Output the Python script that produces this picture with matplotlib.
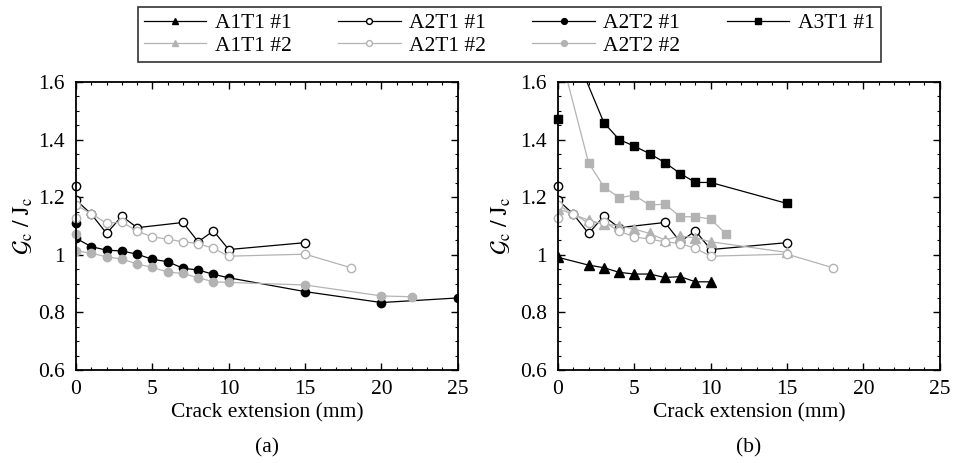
import matplotlib
matplotlib.use('Agg')
import matplotlib.pyplot as plt
from matplotlib.ticker import MultipleLocator, FormatStrFormatter

plt.rcParams['font.family'] = ['Liberation Serif', 'DejaVu Serif']
plt.rcParams['mathtext.fontset'] = 'stix'

GRAY = '#b3b3b3'

# initiation values (x = 0, drawn as markers only)
a2t1_1_init = 1.24
a2t1_2_init = 1.126
a2t2_1_init = 1.111
a2t2_2_init = 1.072
a3t1_1_init = 1.473

# propagation curves
a2t1_1_x = [0, 1, 2, 3, 4, 7, 8, 9, 10, 15]
a2t1_1_y = [1.19, 1.141, 1.074, 1.134, 1.094, 1.112, 1.045, 1.083, 1.018, 1.042]

a2t1_2_x = [0, 1, 2, 3, 4, 5, 6, 7, 8, 9, 10, 15, 18]
a2t1_2_y = [1.172, 1.143, 1.109, 1.114, 1.082, 1.062, 1.054, 1.045, 1.039, 1.022, 0.995, 1.002, 0.955]

a2t2_1_x = [0, 1, 2, 3, 4, 5, 6, 7, 8, 9, 10, 15, 20, 25]
a2t2_1_y = [1.057, 1.028, 1.016, 1.013, 1.002, 0.984, 0.976, 0.953, 0.947, 0.932, 0.920, 0.872, 0.834, 0.850]

a2t2_2_x = [0, 1, 2, 3, 4, 5, 6, 7, 8, 9, 10, 15, 20, 22]
a2t2_2_y = [1.014, 1.005, 0.993, 0.985, 0.968, 0.956, 0.940, 0.935, 0.920, 0.906, 0.904, 0.895, 0.857, 0.854]

a1t1_1_x = [0, 2, 3, 4, 5, 6, 7, 8, 9, 10]
a1t1_1_y = [0.991, 0.964, 0.955, 0.939, 0.933, 0.933, 0.921, 0.924, 0.906, 0.906]

a1t1_2_x = [0, 2, 3, 4, 5, 6, 7, 8, 9, 10, 15]
a1t1_2_y = [1.16, 1.120, 1.106, 1.101, 1.089, 1.074, 1.051, 1.065, 1.059, 1.045, 1.008]

a3t1_1_x = [0, 3, 4, 5, 6, 7, 8, 9, 10, 15]
a3t1_1_y = [1.84, 1.459, 1.400, 1.377, 1.351, 1.320, 1.282, 1.251, 1.251, 1.178]

a3t1_2_x = [0, 2, 3, 4, 5, 6, 7, 8, 9, 10, 11]
a3t1_2_y = [1.73, 1.319, 1.236, 1.198, 1.207, 1.172, 1.176, 1.132, 1.132, 1.124, 1.072]

FS = 15.5

fig = plt.figure(figsize=(9.59, 4.63), dpi=100)
ax_a = fig.add_axes([0.0793, 0.201, 0.398, 0.622])
ax_b = fig.add_axes([0.5819, 0.201, 0.398, 0.622])


def series(ax, x, y, color, marker, face, ms=6, init=None, label=None):
    h, = ax.plot(x, y, color=color, lw=0.9, marker=marker, ms=ms,
                 mfc=face, mec=color, mew=1.0, label=label)
    if init is not None:
        ax.plot([0], [init], ls='none', marker=marker, ms=ms,
                mfc=face, mec=color, mew=1.0, clip_on=False)
    return h


# (a)
series(ax_a, a2t1_1_x, a2t1_1_y, 'black', 'o', 'white', init=a2t1_1_init)
series(ax_a, a2t2_1_x, a2t2_1_y, 'black', 'o', 'black', init=a2t2_1_init)
series(ax_a, a2t1_2_x, a2t1_2_y, GRAY, 'o', 'white', init=a2t1_2_init)
series(ax_a, a2t2_2_x, a2t2_2_y, GRAY, 'o', GRAY, init=a2t2_2_init)

# (b)
h1 = series(ax_b, a1t1_1_x, a1t1_1_y, 'black', '^', 'black', ms=6.5, label='A1T1 #1')
h2 = series(ax_b, a2t1_1_x, a2t1_1_y, 'black', 'o', 'white', init=a2t1_1_init, label='A2T1 #1')
h4 = series(ax_b, a3t1_1_x, a3t1_1_y, 'black', 's', 'black', ms=5.5, init=a3t1_1_init, label='A3T1 #1')
h5 = series(ax_b, a1t1_2_x, a1t1_2_y, GRAY, '^', GRAY, ms=6.5, label='A1T1 #2')
h6 = series(ax_b, a2t1_2_x, a2t1_2_y, GRAY, 'o', 'white', init=a2t1_2_init, label='A2T1 #2')
series(ax_b, a3t1_2_x, a3t1_2_y, GRAY, 's', GRAY, ms=5.5)

# legend-only handles for A2T2
h3, = ax_b.plot([], [], color='black', lw=0.9, marker='o', ms=6, mfc='black', mec='black')
h7, = ax_b.plot([], [], color=GRAY, lw=0.9, marker='o', ms=6, mfc=GRAY, mec=GRAY)

for ax in (ax_a, ax_b):
    ax.set_xlim(0, 25)
    ax.set_ylim(0.6, 1.6)
    ax.xaxis.set_major_locator(MultipleLocator(5))
    ax.xaxis.set_minor_locator(MultipleLocator(1))
    ax.yaxis.set_major_locator(MultipleLocator(0.2))
    ax.yaxis.set_minor_locator(MultipleLocator(0.05))
    ax.yaxis.set_major_formatter(FormatStrFormatter('%g'))
    ax.tick_params(which='both', direction='in', top=True, right=True, labelsize=FS)
    ax.tick_params(axis='x', pad=7)
    ax.tick_params(axis='y', pad=8)
    ax.tick_params(which='major', length=5, width=1)
    ax.tick_params(which='minor', length=2.5, width=0.8)
    for s in ax.spines.values():
        s.set_linewidth(1.3)
    ax.set_xlabel('Crack extension (mm)', fontsize=FS, labelpad=3)
    ax.set_ylabel(r'$\mathcal{G}_\mathrm{c}\ /\ \mathrm{J}_\mathrm{c}$', fontsize=FS + 1.5)

ax_a.yaxis.set_label_coords(-0.108, 0.5)
ax_b.yaxis.set_label_coords(-0.118, 0.5)

fig.text(0.278, 0.032, '(a)', ha='center', va='center', fontsize=FS)
fig.text(0.781, 0.032, '(b)', ha='center', va='center', fontsize=FS)

leg = fig.legend([h1, h5, h2, h6, h3, h7, h4],
                 ['A1T1 #1', 'A1T1 #2', 'A2T1 #1', 'A2T1 #2', 'A2T2 #1', 'A2T2 #2', 'A3T1 #1'],
                 loc='upper center', bbox_to_anchor=(0.531, 0.995), ncol=4,
                 fontsize=FS, frameon=True, fancybox=False, edgecolor='black',
                 handlelength=2.9, handletextpad=0.4, columnspacing=2.15,
                 labelspacing=0.12, borderpad=0.3, borderaxespad=0.2, markerscale=0.7)
leg.get_frame().set_linewidth(1.2)

fig.savefig('out.png', dpi=100)
